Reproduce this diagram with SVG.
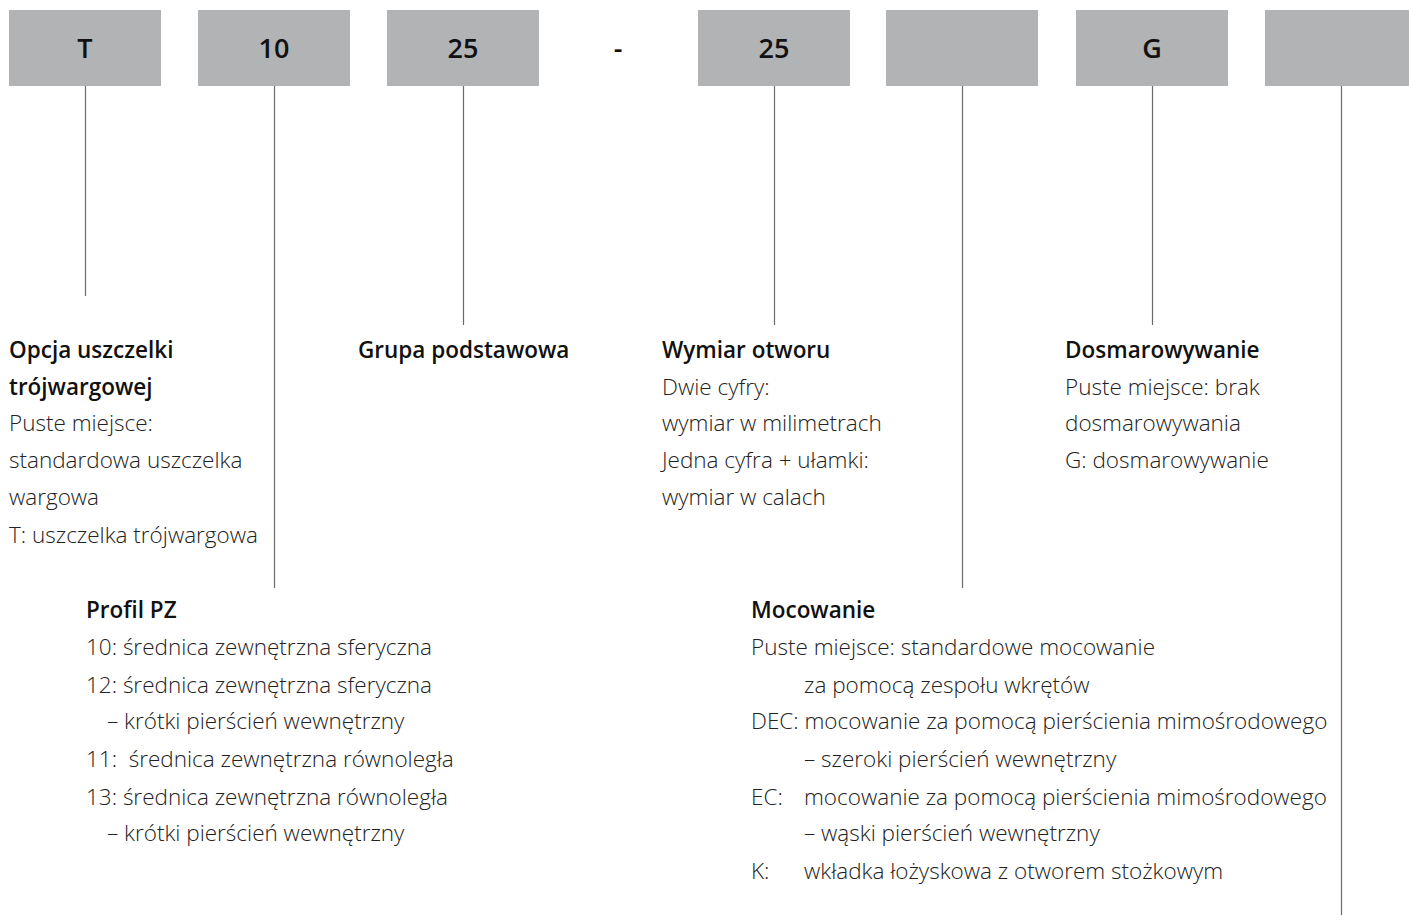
<svg xmlns="http://www.w3.org/2000/svg" width="1409" height="921" viewBox="0 0 1409 921">
<style>
.box{fill:#b2b3b5}
.code{font-family:"Open Sans","Liberation Sans",sans-serif;font-size:27px;font-weight:600;fill:#111;text-anchor:middle}
.h{font-family:"Open Sans","Liberation Sans",sans-serif;font-size:22.5px;font-weight:600;fill:#111}
.t{font-family:"Open Sans","Liberation Sans",sans-serif;font-size:22.5px;font-weight:300;fill:#222}
.ln{stroke:#6a6a6a;stroke-width:1.2;fill:none}
</style>
<rect width="1409" height="921" fill="#fff"/>
<g id="connectors">
<line class="ln" x1="85.5" y1="86" x2="85.5" y2="296"/>
<line class="ln" x1="274.5" y1="86" x2="274.5" y2="588"/>
<line class="ln" x1="463.5" y1="86" x2="463.5" y2="325"/>
<line class="ln" x1="774.5" y1="86" x2="774.5" y2="325"/>
<line class="ln" x1="962.5" y1="86" x2="962.5" y2="588"/>
<line class="ln" x1="1152.5" y1="86" x2="1152.5" y2="325"/>
<line class="ln" x1="1341.5" y1="86" x2="1341.5" y2="915"/>
</g>
<g id="box-T"><rect class="box" x="9" y="10" width="152" height="76"/><text class="code" x="85" y="58">T</text></g>
<g id="box-10"><rect class="box" x="198" y="10" width="152" height="76"/><text class="code" x="274" y="58">10</text></g>
<g id="box-25a"><rect class="box" x="387" y="10" width="152" height="76"/><text class="code" x="463" y="58">25</text></g>
<g id="dash"><text class="code" x="618" y="58">-</text></g>
<g id="box-25b"><rect class="box" x="698" y="10" width="152" height="76"/><text class="code" x="774" y="58">25</text></g>
<g id="box-blank1"><rect class="box" x="886" y="10" width="152" height="76"/></g>
<g id="box-G"><rect class="box" x="1076" y="10" width="152" height="76"/><text class="code" x="1152" y="58">G</text></g>
<g id="box-blank2"><rect class="box" x="1265" y="10" width="152" height="76"/></g>

<g id="label-opcja">
<text class="h" x="9" y="358">Opcja uszczelki</text>
<text class="h" x="9" y="395">trójwargowej</text>
<text class="t" x="9" y="431">Puste miejsce:</text>
<text class="t" x="9" y="468">standardowa uszczelka</text>
<text class="t" x="9" y="505">wargowa</text>
<text class="t" x="9" y="543">T: uszczelka trójwargowa</text>
</g>
<g id="label-grupa">
<text class="h" x="358" y="358">Grupa podstawowa</text>
</g>
<g id="label-wymiar">
<text class="h" x="662" y="358">Wymiar otworu</text>
<text class="t" x="662" y="395">Dwie cyfry:</text>
<text class="t" x="662" y="431">wymiar w milimetrach</text>
<text class="t" x="662" y="468">Jedna cyfra + ułamki:</text>
<text class="t" x="662" y="505">wymiar w calach</text>
</g>
<g id="label-dosmar">
<text class="h" x="1065" y="358">Dosmarowywanie</text>
<text class="t" x="1065" y="395">Puste miejsce: brak</text>
<text class="t" x="1065" y="431">dosmarowywania</text>
<text class="t" x="1065" y="468">G: dosmarowywanie</text>
</g>
<g id="label-profil">
<text class="h" x="86" y="618">Profil PZ</text>
<text class="t" x="86" y="655">10: średnica zewnętrzna sferyczna</text>
<text class="t" x="86" y="693">12: średnica zewnętrzna sferyczna</text>
<text class="t" x="107" y="729">– krótki pierścień wewnętrzny</text>
<text class="t" x="86" y="767" xml:space="preserve">11:  średnica zewnętrzna równoległa</text>
<text class="t" x="86" y="805">13: średnica zewnętrzna równoległa</text>
<text class="t" x="107" y="841">– krótki pierścień wewnętrzny</text>
</g>
<g id="label-mocowanie">
<text class="h" x="751" y="618">Mocowanie</text>
<text class="t" x="751" y="655">Puste miejsce: standardowe mocowanie</text>
<text class="t" x="804" y="693">za pomocą zespołu wkrętów</text>
<text class="t" x="751" y="729">DEC: mocowanie za pomocą pierścienia mimośrodowego</text>
<text class="t" x="804" y="767">– szeroki pierścień wewnętrzny</text>
<text class="t" x="751" y="805">EC:</text>
<text class="t" x="804" y="805">mocowanie za pomocą pierścienia mimośrodowego</text>
<text class="t" x="804" y="841">– wąski pierścień wewnętrzny</text>
<text class="t" x="751" y="879">K:</text>
<text class="t" x="804" y="879">wkładka łożyskowa z otworem stożkowym</text>
</g>
</svg>
